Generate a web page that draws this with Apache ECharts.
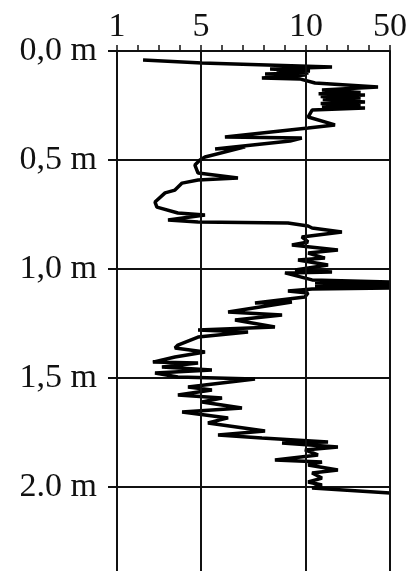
<!DOCTYPE html>
<html>
<head>
<meta charset="utf-8">
<script src="https://cdn.jsdelivr.net/npm/echarts@6/dist/echarts.min.js"></script>
<style>html,body{margin:0;padding:0;background:#fff}#c{width:417px;height:571px}</style>
</head>
<body>
<div id="c"></div>
<script>
// Tick labels
const xTickValues = [1, 5, 10, 50];
const xTickLabels = ['1', '5', '10', '50'];
const yTickValues = [0, 0.5, 1.0, 1.5, 2.0];
const yTickLabels = ['0,0 m', '0,5 m', '1,0 m', '1,5 m', '2.0 m'];

const depths = [
  0.041,0.055,0.073,0.083,0.092,0.097,0.101,0.106,0.110,0.124,0.128,0.147,
  0.165,0.179,0.190,0.196,0.202,0.209,0.216,0.223,0.234,0.241,0.248,0.255,0.261,0.271,0.303,0.339,
  0.353,0.394,0.399,0.413,0.450,0.440,0.486,0.500,0.523,0.560,
  0.583,0.592,0.606,0.638,0.651,0.693,0.716,0.743,0.752,0.775,
  0.784,0.789,0.803,0.812,0.830,0.853,0.876,0.890,0.913,0.927,
  0.950,0.959,0.982,1.005,1.014,1.018,1.050,1.060,1.064,1.073,
  1.078,1.087,1.092,1.101,1.110,1.128,1.156,1.151,1.197,1.211,
  1.234,1.266,1.280,1.289,1.312,1.349,1.362,1.381,1.404,1.427,
  1.431,1.450,1.463,1.477,1.495,1.505,1.541,1.555,1.578,1.592,
  1.610,1.638,1.656,1.683,1.706,1.743,1.761,1.775,1.794,1.798,
  1.817,1.830,1.853,1.876,1.885,1.899,1.922,1.936,1.959,1.977,
  1.991,2.005,2.028
];
const values = [
  2.24,5.05,22.4,8.29,11.9,8.6,11.2,8.05,9.95,7.9,9.7,14.3,
  44.3,17.6,36,16,38.1,17,36,18,38.1,17,36,17.6,38.1,12.9,11.0,23.8,
  11.0,6.14,9.8,9.24,5.67,7.1,5.19,4.95,4.71,4.86,
  6.76,4.86,4.1,3.76,3.29,2.81,2.9,3.9,5.19,3.43,
  4.86,9.14,11.0,12.9,27.1,9.8,11.0,9.33,25.2,11.0,
  19.0,9.62,20.5,9.48,22.4,9.0,12.9,50,14.3,50,
  14.3,50,12.9,9.14,11.0,9.95,7.57,9.33,6.29,8.86,
  6.62,8.52,4.86,7.24,4.86,3.9,3.76,5.19,3.76,2.71,
  4.86,3.14,5.52,2.81,3.9,7.57,4.38,5.52,3.9,6.0,
  5.05,6.95,4.1,6.29,5.33,8.05,5.81,7.9,20.5,8.86,
  25.2,9.95,15.7,8.52,17.6,11.0,25.2,12.9,17.6,11.0,
  17.6,12.9,50
];

// Piecewise-linear axis used by the chart: 1..10 in steps of 1, 10..50 in steps of 10
function toAxis(v) {
  return v <= 10 ? v - 1 : 9 + (v - 10) / 10;
}
const xTickPos = xTickValues.map(toAxis);
const data = depths.map((d, i) => [toAxis(values[i]), d]);

const font = "'Liberation Serif', 'Times New Roman', Times, serif";
const ink = '#111';

const chart = echarts.init(document.getElementById('c'), null, {renderer: 'canvas'});
chart.setOption({
  animation: false,
  backgroundColor: '#fff',
  grid: {left: 117, right: 27, top: 51, height: 545, outerBoundsMode: 'none', containLabel: false},
  xAxis: {
    type: 'value', position: 'top', min: 0, max: 13, interval: 1,
    axisLine: {show: true, lineStyle: {color: ink, width: 2}},
    axisTick: {show: true, length: 6, inside: false, lineStyle: {color: ink, width: 1.5}},
    splitLine: {show: false},
    axisLabel: {
      margin: 7, color: ink, fontFamily: font, fontSize: 34,
      formatter: function (val) {
        for (let i = 0; i < xTickPos.length; i++) if (Math.abs(xTickPos[i] - val) < 1e-6) return xTickLabels[i];
        return '';
      }
    }
  },
  yAxis: [{
    type: 'value', inverse: true, min: 0, max: 2.5, interval: 0.5,
    axisLine: {show: true, lineStyle: {color: ink, width: 2}},
    axisTick: {show: true, length: 9, inside: false, lineStyle: {color: ink, width: 2}},
    splitLine: {show: true, lineStyle: {color: ink, width: 2}},
    axisLabel: {
      margin: 20, color: ink, fontFamily: font, fontSize: 34,
      formatter: function (val) {
        for (let i = 0; i < yTickValues.length; i++) if (Math.abs(yTickValues[i] - val) < 1e-6) return yTickLabels[i];
        return '';
      }
    }
  }],
  series: [{
    type: 'line', data: data, showSymbol: false, symbol: 'none',
    lineStyle: {color: '#000', width: 3.5}, clip: true, z: 3,
    markLine: {
      silent: true, symbol: 'none', label: {show: false},
      lineStyle: {color: ink, width: 2, type: 'solid'},
      data: xTickPos.slice(1).map(p => ({xAxis: p}))
    }
  }]
});
</script>
</body>
</html>
